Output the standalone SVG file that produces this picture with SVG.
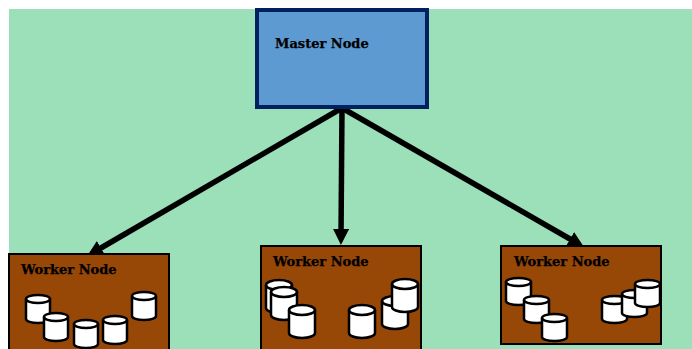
<svg xmlns="http://www.w3.org/2000/svg" width="692" height="349" viewBox="0 0 692 349">
<style>
.w{fill:#974706;stroke:#000;stroke-width:2}
.t{font-family:"DejaVu Serif",serif;font-weight:bold;font-size:13px;fill:#000;stroke:#000;stroke-width:.25}
.c{fill:none;stroke:#000;stroke-width:5.5}
.b{fill:#fff;stroke:#000;stroke-width:2.5}
.k{fill:none;stroke:#000;stroke-width:2.5}
</style>
<defs>
<marker id="a" markerUnits="userSpaceOnUse" markerWidth="18" markerHeight="18" refX="8" refY="8" orient="auto"><path d="M0 0L16 8L0 16Z"/></marker>
<g id="s"><path class="b" d="M0 4A12 4 0 0 1 24 4V24A12 4 0 0 1 0 24Z"/><path class="k" d="M0 4A12 4 0 0 0 24 4"/></g>
<g id="m"><path class="b" d="M0 5A13 5 0 0 1 26 5V28A13 5 0 0 1 0 28Z"/><path class="k" d="M0 5A13 5 0 0 0 26 5"/></g>
<g id="l"><path class="b" d="M0 5A12.5 4 0 0 1 25 5V24A12.5 4 0 0 1 0 24Z"/><path class="k" d="M0 5A12.5 4 0 0 0 25 5"/></g>
</defs>
<rect x="9" y="9" width="683" height="340" fill="#9ce0b9"/>
<g id="connectors"><path class="c" d="M342 108L94 252" marker-end="url(#a)"/><path class="c" d="M342 108L341 237" marker-end="url(#a)"/><path class="c" d="M342 108L577 243" marker-end="url(#a)"/></g>
<g id="master"><rect x="257" y="10" width="170" height="97" fill="#5e9ad2" stroke="#002060" stroke-width="4"/><text class="t" x="275" y="48">Master Node</text></g>
<g id="worker1"><rect class="w" x="9" y="254" width="160" height="100"/><text class="t" x="21" y="274">Worker Node</text>
<use href="#s" x="26" y="295"/><use href="#s" x="44" y="313"/><use href="#s" x="74" y="320"/><use href="#s" x="103" y="316"/><use href="#s" x="132" y="292"/></g>
<g id="worker2"><rect class="w" x="261" y="246" width="160" height="108"/><text class="t" x="273" y="266">Worker Node</text>
<use href="#m" x="266" y="280"/><use href="#m" x="271" y="287"/><use href="#m" x="289" y="305"/><use href="#m" x="349" y="305"/><use href="#m" x="382" y="296"/><use href="#m" x="392" y="279"/></g>
<g id="worker3"><rect class="w" x="501" y="246" width="160" height="98"/><text class="t" x="514" y="266">Worker Node</text>
<use href="#l" x="506" y="277"/><use href="#l" x="524" y="295"/><use href="#l" x="542" y="313"/><use href="#l" x="602" y="295"/><use href="#l" x="622" y="289"/><use href="#l" x="635" y="279"/></g>
</svg>
